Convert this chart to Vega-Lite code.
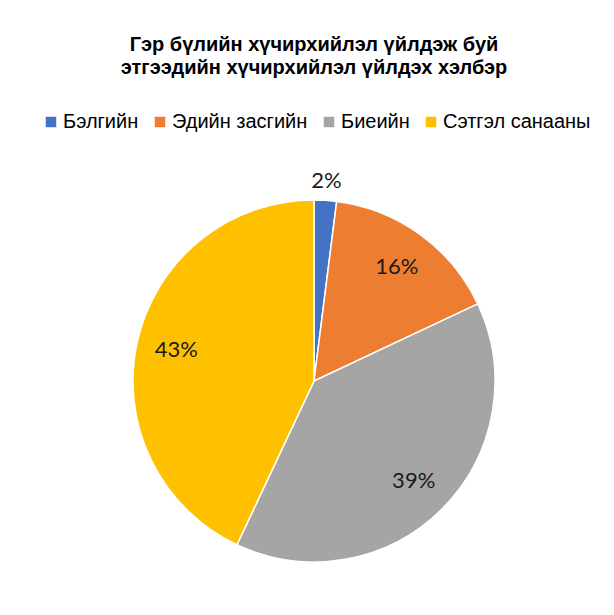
{
  "$schema": "https://vega.github.io/schema/vega-lite/v6.json",
  "width": 462,
  "height": 462,
  "autosize": {"type": "none"},
  "padding": {"left": 83, "top": 150, "right": 69, "bottom": 3},
  "background": "white",
  "view": {"stroke": null},
  "title": {
    "text": ["Гэр бүлийн хүчирхийлэл үйлдэж буй", "этгээдийн хүчирхийлэл үйлдэх хэлбэр"],
    "font": "Liberation Sans",
    "fontSize": 20,
    "fontWeight": "bold",
    "color": "#000000",
    "lineHeight": 23.5,
    "anchor": "middle",
    "offset": 34
  },
  "data": {
    "values": [
      {"k": 1, "type": "Бэлгийн", "share": 0.02},
      {"k": 2, "type": "Эдийн засгийн", "share": 0.16},
      {"k": 3, "type": "Биеийн", "share": 0.39},
      {"k": 4, "type": "Сэтгэл санааны", "share": 0.43}
    ]
  },
  "encoding": {
    "theta": {"field": "share", "type": "quantitative", "stack": true},
    "order": {"field": "k", "type": "quantitative"}
  },
  "layer": [
    {
      "mark": {"type": "arc", "outerRadius": 181, "stroke": "white", "strokeWidth": 1.5},
      "encoding": {
        "color": {
          "field": "type",
          "type": "nominal",
          "scale": {
            "domain": ["Бэлгийн", "Эдийн засгийн", "Биеийн", "Сэтгэл санааны"],
            "range": ["#4472C4", "#ED7D31", "#A5A5A5", "#FFC000"]
          },
          "legend": {
            "orient": "none",
            "legendX": -42,
            "legendY": -38,
            "direction": "horizontal",
            "title": null,
            "symbolType": "square",
            "symbolSize": 110,
            "symbolStrokeWidth": 0,
            "labelFont": "Liberation Sans",
            "labelFontSize": 20,
            "labelColor": "#000000",
            "labelOffset": 2,
            "columnPadding": 11
          }
        }
      }
    },
    {
      "mark": {"type": "text", "font": "Lato", "fontSize": 22, "color": "#1a1a1a", "align": "center", "baseline": "middle", "radius": 141},
      "encoding": {
        "text": {"condition": {"test": "datum.share >= 0.05", "field": "share", "type": "quantitative", "format": ".0%"}, "value": ""}
      }
    },
    {
      "mark": {"type": "text", "font": "Lato", "fontSize": 22, "color": "#1a1a1a", "align": "center", "baseline": "middle", "radius": 200},
      "encoding": {
        "text": {"condition": {"test": "datum.share < 0.05", "field": "share", "type": "quantitative", "format": ".0%"}, "value": ""}
      }
    }
  ]
}
